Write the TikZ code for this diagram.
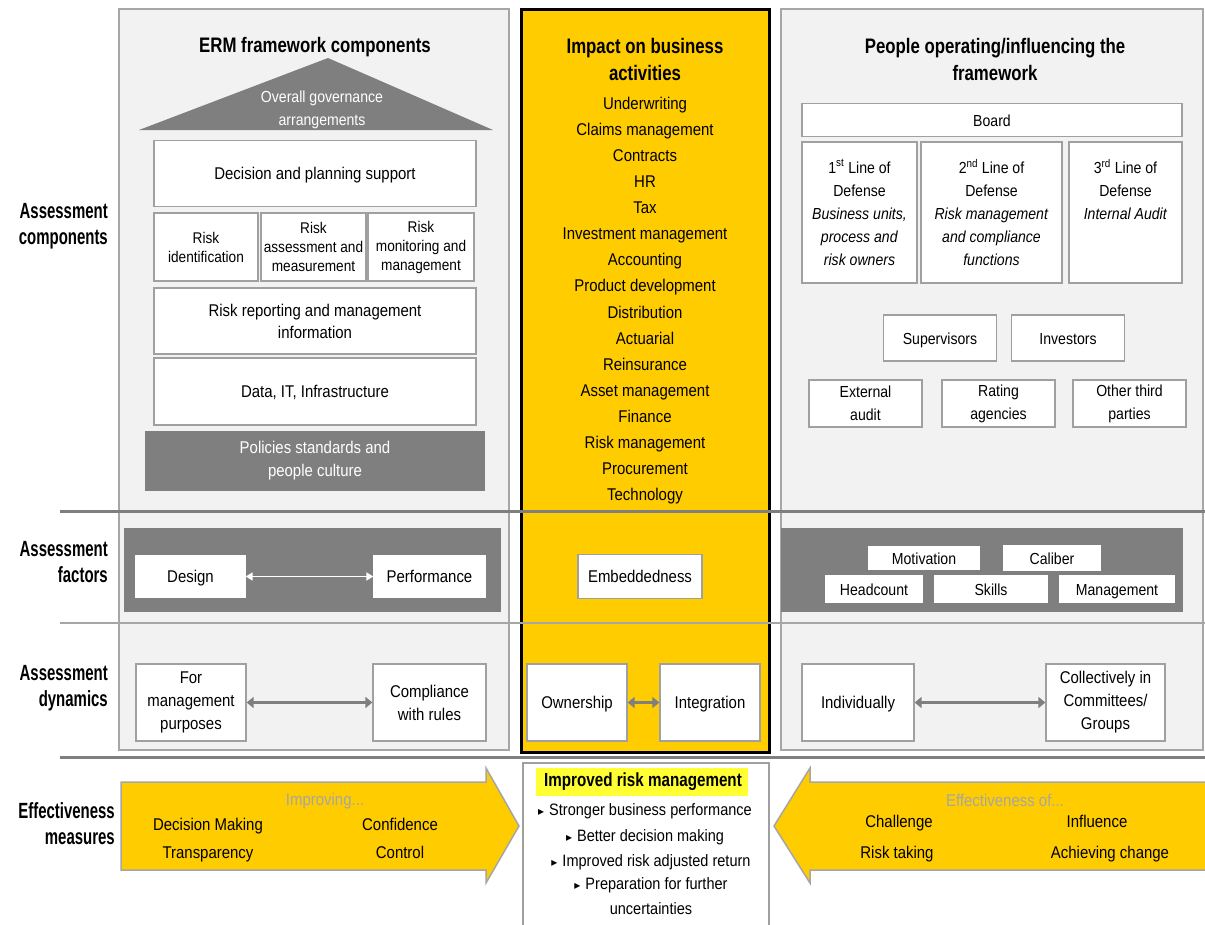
\documentclass[tikz,border=0pt]{standalone}
\usepackage{fontspec}
\setmainfont{Liberation Sans}[FakeStretch=0.88]
\newfontfamily\ttlfont{Liberation Sans}[FakeStretch=0.8]
\newfontfamily\rowlblfont{Liberation Sans}[FakeStretch=0.68]
\newfontfamily\bulletfont{DejaVu Sans}
\usetikzlibrary{arrows.meta}
\definecolor{ey}{HTML}{FFCC00}
\definecolor{panelfill}{HTML}{F2F2F2}
\definecolor{pborder}{HTML}{A6A6A6}
\definecolor{dgray}{HTML}{7F7F7F}
\definecolor{bborder}{HTML}{A0A0A0}
\definecolor{hl}{HTML}{FFFF33}
\definecolor{lgtxt}{HTML}{A6A6A6}
\newcommand\bodysz{\fontsize{17}{23}\selectfont}
\newcommand\rsz{\fontsize{16}{23}\selectfont}
\newcommand\ssz{\fontsize{15.5}{19}\selectfont}
\newcommand\bsz{\fontsize{16.5}{25}\selectfont}
\newcommand\bul{{\bulletfont\fontsize{12}{12}\selectfont ▸}\hspace{5pt}}
\tikzset{
  wbox/.style={draw=bborder, fill=white, line width=1.3pt, align=center, inner sep=0pt, font=\bodysz},
  rbox/.style={wbox, font=\rsz},
  sl/.style={text height=12.5pt, text depth=0.5pt},
  dbox/.style={fill=dgray, draw=none, inner sep=0pt, align=center},
  panel/.style={draw=pborder, fill=panelfill, line width=1.3pt},
  ttl/.style={font={\ttlfont\bfseries\fontsize{21}{27}\selectfont}, align=center, inner sep=0pt},
  rowlbl/.style={font={\rowlblfont\bfseries\fontsize{22}{26}\selectfont}, align=right, anchor=east, inner sep=0pt},
  txt/.style={font=\bodysz, align=center, inner sep=0pt},
  ltxt/.style={txt, sl},
  btxt/.style={font=\bsz, align=center, inner sep=0pt},
  warrow/.style={draw=white, line width=1.5pt, {Triangle[length=7pt,width=8pt]}-{Triangle[length=7pt,width=8pt]}},
  garrow/.style={draw=dgray, line width=3pt, {Triangle[length=7pt,width=11pt]}-{Triangle[length=7pt,width=11pt]}},
  sepdark/.style={draw=dgray, line width=3pt},
  seplight/.style={draw=pborder, line width=2pt},
  bigarrow/.style={fill=ey, draw=pborder, line width=1.5pt, line join=miter}
}
\begin{document}
\begin{tikzpicture}[x=1pt,y=-1pt]
\useasboundingbox (0,0) rectangle (1205,924);
\fill[white] (0,0) rectangle (1205,924);

% panels
\draw[panel] (119,9) rectangle (509,750);
\draw[panel] (781,9) rectangle (1203,750);
\fill[ey] (521,9) rectangle (769,752);
\draw[line width=3pt] (521,9) rectangle (769,752);

% separators
\draw[sepdark] (60,511) -- (1205,511);
\draw[seplight] (60,623) -- (1205,623);
\draw[sepdark] (60,757) -- (1205,757);

% row labels
\node[rowlbl] (rl1) at (108,226) {Assessment\\components};
\node[rowlbl] (rl2) at (108,562) {Assessment\\factors};
\node[rowlbl] (rl3) at (108,688) {Assessment\\dynamics};
\node[rowlbl] (rl4) at (115,824) {Effectiveness\\measures};

% ===== left column =====
\node[ttl] (t1) at (315,47) {ERM framework components};
\fill[dgray] (139,130) -- (328,58) -- (493,130) -- cycle;
\node[txt, text=white, font={\fontsize{16}{23}\selectfont}] (roof) at (322,110) {Overall governance\\arrangements};
\node[wbox, sl, minimum width=322, minimum height=66] (dps) at (315,173.5) {Decision and planning support};
\node[wbox, font=\ssz, minimum width=104, minimum height=68] (rid) at (206,247) {Risk\\identification};
\node[wbox, font=\ssz, minimum width=105, minimum height=68] (rass) at (313.5,247) {Risk\\assessment and\\measurement};
\node[wbox, font=\ssz, minimum width=106, minimum height=68] (rmon) at (421,247) {Risk\\monitoring and\\management};
\node[wbox, font={\fontsize{17}{22}\selectfont}, minimum width=322, minimum height=66] (rrep) at (315,321) {Risk reporting and management\\information};
\node[wbox, sl, minimum width=322, minimum height=67] (data) at (315,391.5) {Data, IT, Infrastructure};
\node[dbox, text=white, font=\bodysz, minimum width=340, minimum height=60] (pol) at (315,461) {Policies standards and\\people culture};

\node[dbox, minimum width=377, minimum height=84] (lfac) at (312.5,570) {};
\node[wbox, sl, draw=white, minimum width=109, minimum height=42] (design) at (190.5,576.5) {Design};
\node[wbox, sl, draw=white, minimum width=111, minimum height=42] (perf) at (429.5,576.5) {Performance};
\draw[warrow] (design) -- (perf);

\node[wbox, minimum width=110, minimum height=77] (formgmt) at (191,702.5) {For\\management\\purposes};
\node[wbox, minimum width=113, minimum height=77] (compl) at (429.5,702.5) {Compliance\\with rules};
\draw[garrow] (formgmt) -- (compl);

% ===== middle column =====
\node[ttl] (t2) at (645,59) {Impact on business\\activities};
\foreach \t [count=\i] in {Underwriting, Claims management, Contracts, HR, Tax, Investment management, Accounting, Product development, Distribution, Actuarial, Reinsurance, Asset management, Finance, Risk management, Procurement, Technology}
  \node[txt, anchor=base] (act\i) at (645,{109+26.13*(\i-1)}) {\t};
\node[wbox, sl, minimum width=124, minimum height=44] (emb) at (640,576.5) {Embeddedness};
\node[wbox, sl, minimum width=100, minimum height=77] (own) at (577,702.5) {Ownership};
\node[wbox, sl, minimum width=100, minimum height=77] (integ) at (710,702.5) {Integration};
\draw[garrow] (own) -- (integ);

% ===== right column =====
\node[ttl] (t3) at (995,59) {People operating/influencing the\\framework};
\node[rbox, sl, minimum width=380, minimum height=33] (board) at (992,120) {Board};
\node[rbox, minimum width=115, minimum height=141] (l1) at (859.5,212.5) {1\textsuperscript{st} Line of\\Defense\\\textit{Business units,}\\\textit{process and}\\\textit{risk owners}};
\node[rbox, minimum width=141, minimum height=141] (l2) at (991.5,212.5) {2\textsuperscript{nd} Line of\\Defense\\\textit{Risk management}\\\textit{and compliance}\\\textit{functions}};
\node[rbox, minimum width=113, minimum height=141] (l3) at (1125.5,212.5) {3\textsuperscript{rd} Line of\\Defense\\\textit{Internal Audit}\\\mbox{}\\\mbox{}};
\node[rbox, sl, minimum width=113, minimum height=46] (sup) at (940,338) {Supervisors};
\node[rbox, sl, minimum width=113, minimum height=46] (inv) at (1068,338) {Investors};
\node[rbox, minimum width=113, minimum height=47] (ext) at (865.5,403.5) {External\\audit};
\node[rbox, minimum width=113, minimum height=47] (rat) at (998.5,403.5) {Rating\\agencies};
\node[rbox, minimum width=113, minimum height=47] (oth) at (1129.5,403.5) {Other third\\parties};

\node[dbox, minimum width=402, minimum height=84] (rfac) at (981.5,570) {};
\node[rbox, sl, draw=white, minimum width=110, minimum height=23] (mot) at (924,558) {Motivation};
\node[rbox, sl, draw=white, minimum width=96, minimum height=24] (cal) at (1052,558) {Caliber};
\node[rbox, sl, draw=white, minimum width=96, minimum height=26] (head) at (874,589) {Headcount};
\node[rbox, sl, draw=white, minimum width=112, minimum height=26] (skills) at (991,589) {Skills};
\node[rbox, sl, draw=white, minimum width=114, minimum height=26] (mgmt) at (1117,589) {Management};

\node[wbox, sl, minimum width=112, minimum height=77] (indiv) at (858,702.5) {Individually};
\node[wbox, minimum width=119, minimum height=77] (coll) at (1105.5,702.5) {Collectively in\\Committees/\\Groups};
\draw[garrow] (indiv) -- (coll);

% ===== bottom row =====
\draw[bigarrow] (121,782) -- (486,782) -- (486,768) -- (519,826) -- (486,883) -- (486,870) -- (121,870) -- cycle;
\node[ltxt, text=lgtxt] (impr) at (325,799) {Improving...};
\node[ltxt] (dm) at (208,824) {Decision Making};
\node[ltxt] (conf) at (400,824) {Confidence};
\node[ltxt] (transp) at (208,852) {Transparency};
\node[ltxt] (ctrl) at (400,852) {Control};

\fill[ey] (1206,782) -- (810,782) -- (810,768) -- (774,826) -- (810,883) -- (810,870) -- (1206,870) -- cycle;
\draw[pborder, line width=1.5pt, line join=miter] (1206,782) -- (810,782) -- (810,768) -- (774,826) -- (810,883) -- (810,870) -- (1206,870);
\node[ltxt, text=lgtxt] (effof) at (1005,800) {Effectiveness of...};
\node[ltxt] (chal) at (899,821) {Challenge};
\node[ltxt] (infl) at (1097,821) {Influence};
\node[ltxt] (rtak) at (897,852) {Risk taking};
\node[ltxt] (ach) at (1110,852) {Achieving change};

\draw[draw=bborder, fill=white, line width=1.3pt] (523,930) -- (523,763) -- (769,763) -- (769,930);
\fill[hl] (536,768) rectangle (748,796);
\node[inner sep=0pt, font={\ttlfont\bfseries\fontsize{19}{23}\selectfont}] (irm) at (643,782) {Improved risk management};
\node[btxt, sl] (b1) at (645,809) {\bul Stronger business performance};
\node[btxt, sl] (b2) at (645,835) {\bul Better decision making};
\node[btxt, sl] (b3) at (651,860) {\bul Improved risk adjusted return};
\node[btxt] (b4) at (651,896.5) {\bul Preparation for further\\uncertainties};
\end{tikzpicture}
\end{document}
